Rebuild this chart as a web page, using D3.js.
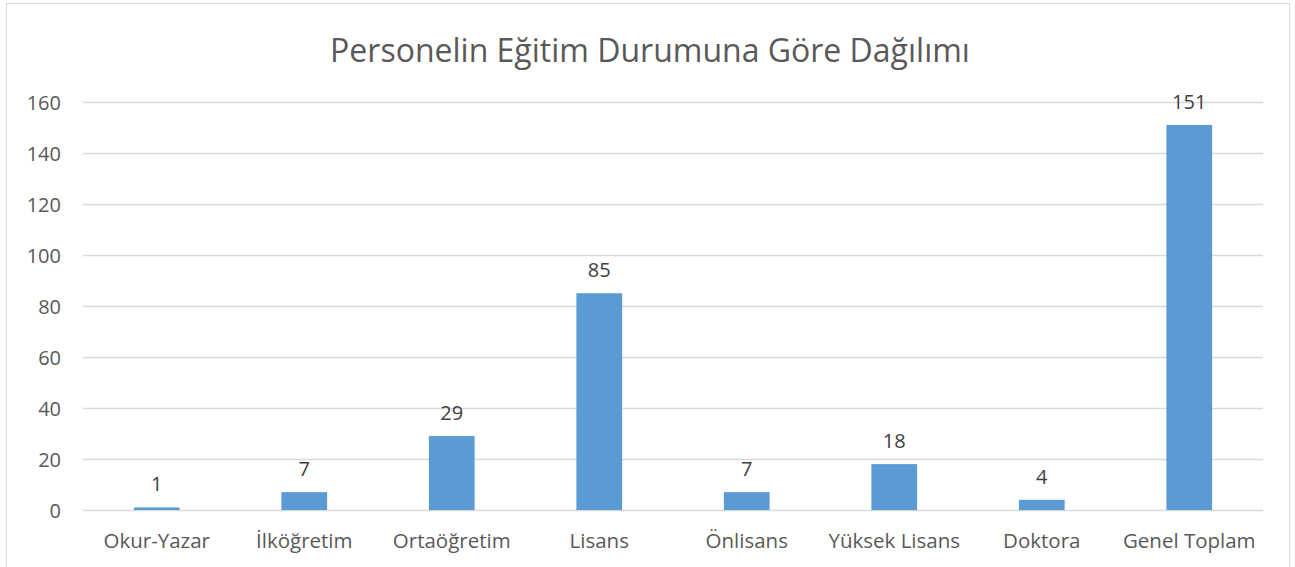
<!DOCTYPE html>
<html>
<head>
<meta charset="utf-8">
<script src="https://cdn.jsdelivr.net/npm/d3@7"></script>
<style>
  body { margin: 0; background: #fff; }
  svg { display: block; }
</style>
</head>
<body>
<svg width="1295" height="567"></svg>
<script>
var categories = ["Okur-Yazar", "İlköğretim", "Ortaöğretim", "Lisans", "Önlisans", "Yüksek Lisans", "Doktora", "Genel Toplam"];
var values = [1, 7, 29, 85, 7, 18, 4, 151];
var yTicks = [0, 20, 40, 60, 80, 100, 120, 140, 160];
var title = "Personelin Eğitim Durumuna Göre Dağılımı";

var svg = d3.select("svg");
var font = "'Open Sans', sans-serif";
var textColor = "#595959";

// chart border
svg.append("rect")
    .attr("x", 6.5).attr("y", 3.5)
    .attr("width", 1283).attr("height", 580)
    .attr("fill", "none")
    .attr("stroke", "#d9d9d9")
    .attr("stroke-width", 1);

var x = d3.scaleBand()
    .domain(categories)
    .range([83, 1263])
    .paddingInner(0.69)
    .paddingOuter(0.345);

var y = d3.scaleLinear()
    .domain([0, 160])
    .range([510, 102]);

// gridlines
svg.append("g")
    .selectAll("line")
    .data(yTicks)
    .enter()
    .append("line")
    .attr("x1", 83).attr("x2", 1263)
    .attr("y1", function (d) { return Math.round(y(d)) + 0.5; })
    .attr("y2", function (d) { return Math.round(y(d)) + 0.5; })
    .attr("stroke", "#d9d9d9")
    .attr("stroke-width", 1.5);

// y axis labels
var y_axis = d3.axisLeft(y).tickValues(yTicks).tickSize(0).tickPadding(0);
var gy = svg.append("g")
    .attr("transform", "translate(61,0)")
    .call(y_axis);
gy.select(".domain").remove();
gy.selectAll("text")
    .attr("font-family", font)
    .attr("font-size", 20)
    .attr("fill", textColor)
    .attr("dy", "0.35em");

// bars
svg.append("g")
    .selectAll("rect")
    .data(values)
    .enter()
    .append("rect")
    .attr("x", function (d, i) { return x(categories[i]); })
    .attr("width", x.bandwidth())
    .attr("y", function (d) { return y(d); })
    .attr("height", function (d) { return y(0) - y(d); })
    .attr("fill", "#5b9bd5");

// value labels
svg.append("g")
    .selectAll("text")
    .data(values)
    .enter()
    .append("text")
    .attr("x", function (d, i) { return x(categories[i]) + x.bandwidth() / 2; })
    .attr("y", function (d) { return y(d) - 16; })
    .attr("text-anchor", "middle")
    .attr("font-family", font)
    .attr("font-size", 20)
    .attr("fill", "#404040")
    .text(function (d) { return d; });

// x axis labels
var x_axis = d3.axisBottom(x).tickSize(0).tickPadding(0);
var gx = svg.append("g")
    .attr("transform", "translate(0,533)")
    .call(x_axis);
gx.select(".domain").remove();
gx.selectAll("text")
    .attr("font-family", font)
    .attr("font-size", 20.5)
    .attr("fill", textColor)
    .attr("dy", "0.72em");

// title
svg.append("text")
    .attr("x", 650)
    .attr("y", 62)
    .attr("text-anchor", "middle")
    .attr("font-family", font)
    .attr("font-size", 32)
    .attr("fill", textColor)
    .text(title);
</script>
</body>
</html>
